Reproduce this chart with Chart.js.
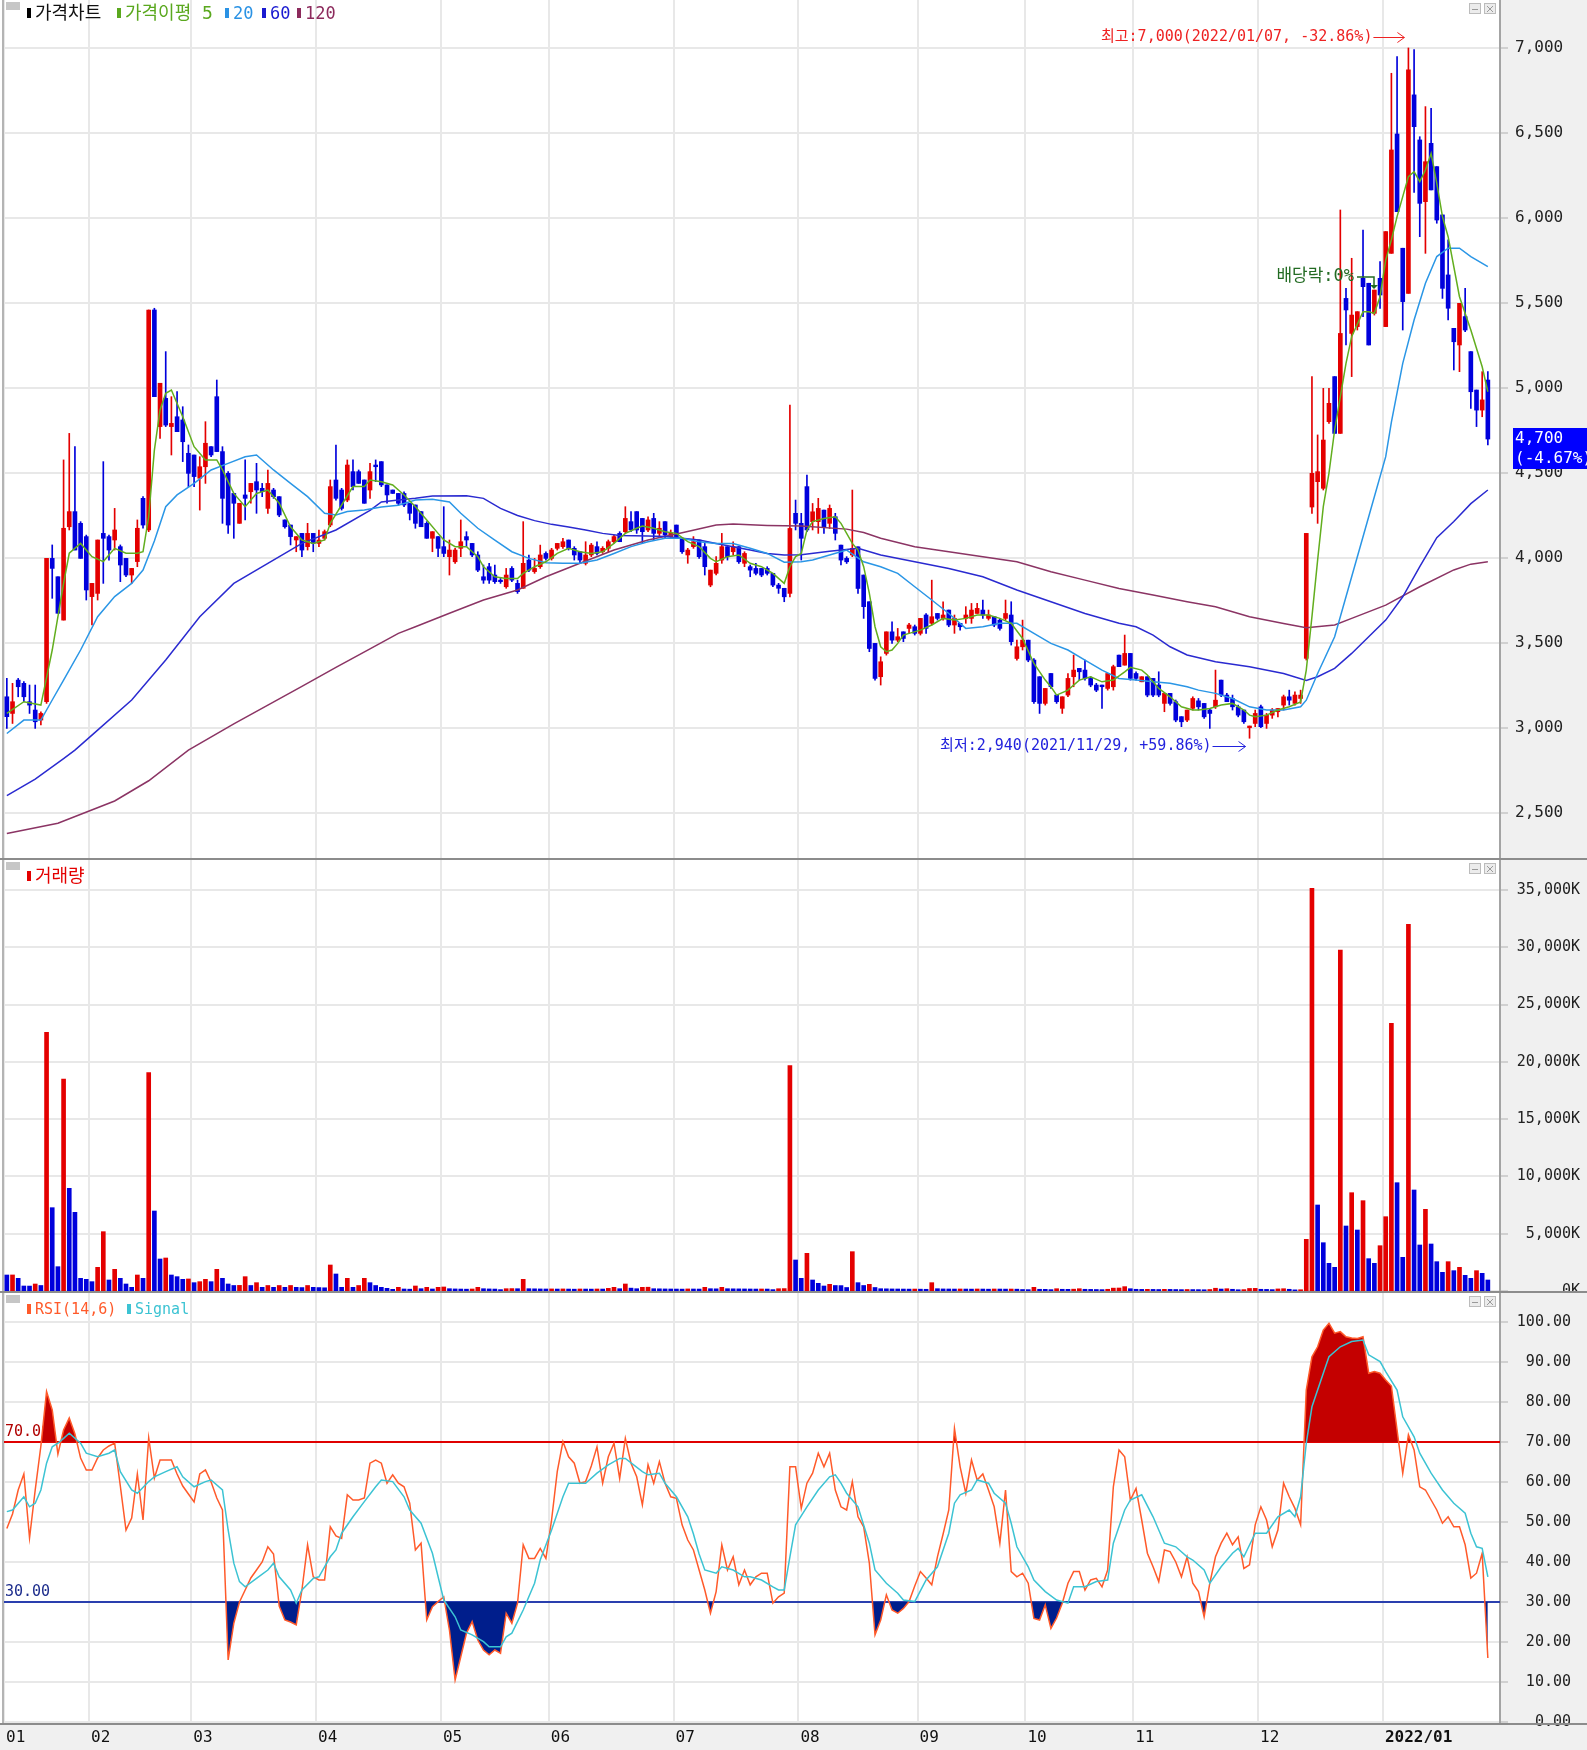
<!DOCTYPE html>
<html>
<head>
<meta charset="utf-8">
<script src="https://cdn.jsdelivr.net/npm/chart.js@4.4.0/dist/chart.umd.min.js"></script>
<style>
  html, body { margin: 0; padding: 0; background: #fff; }
  #wrap { position: relative; width: 1587px; height: 1750px; overflow: hidden; background: #fff; }
  canvas { position: absolute; left: 0; }
  .t { position: absolute; white-space: nowrap; line-height: 20px; font-size: 18px;
       font-family: "DejaVu Sans Mono", "Noto Sans CJK KR", sans-serif; }
  .b { position: absolute; width: 4px; height: 10px; }
</style>
</head>
<body>
<div id="wrap">
  <canvas id="price" width="1587" height="860" style="top:0"></canvas>
  <canvas id="vol" width="1587" height="433" style="top:860px"></canvas>
  <canvas id="rsi" width="1587" height="457" style="top:1293px"></canvas>

  <div class="b" style="left:27px;top:8px;background:#000"></div>
  <div class="t" style="left:35px;top:3px;color:#111">가격차트</div>
  <div class="b" style="left:117px;top:8px;background:#5aa81e"></div>
  <div class="t" style="left:125px;top:3px;color:#5aa81e">가격이평 5</div>
  <div class="b" style="left:225px;top:8px;background:#2a92e4"></div>
  <div class="t" style="left:233px;top:3px;color:#2a92e4;font-size:17px">20</div>
  <div class="b" style="left:262px;top:8px;background:#1a1ad0"></div>
  <div class="t" style="left:270px;top:3px;color:#1a1ad0;font-size:17px">60</div>
  <div class="b" style="left:297px;top:8px;background:#8c2a5c"></div>
  <div class="t" style="left:305px;top:3px;color:#8c2a5c;font-size:17px">120</div>

  <div class="b" style="left:27px;top:871px;background:#e40000"></div>
  <div class="t" style="left:35px;top:866px;color:#e40000">거래량</div>

  <div class="b" style="left:27px;top:1304px;background:#ff5a2a"></div>
  <div class="t" style="left:35px;top:1299px;color:#ff5a2a;font-size:15px">RSI(14,6)</div>
  <div class="b" style="left:127px;top:1304px;background:#3cc3d3"></div>
  <div class="t" style="left:135px;top:1299px;color:#3cc3d3;font-size:15px">Signal</div>
</div>
<script>
// trading day index: 0 = mid Jan 2021 ... 261 = late Jan 2022
const monthStarts = [0, 15, 33, 55, 77, 96, 118, 140, 161, 180, 199, 221, 243];
const monthLabels = ['01', '02', '03', '04', '05', '06', '07', '08', '09', '10', '11', '12', '2022/01'];
const priceTicks = [2500, 3000, 3500, 4000, 4500, 5000, 5500, 6000, 6500, 7000];
const volTicks = [0, 5000, 10000, 15000, 20000, 25000, 30000, 35000];
const rsiTicks = [0, 10, 20, 30, 40, 50, 60, 70, 80, 90, 100];

const hiDate = '2022/01/07';
const loDate = '2021/11/29';
const exDivIndex = 241;

const opens = [
  3184,3086,3282,3263,3155,3106,3047,3155,3998,3890,
  3635,4184,4273,4204,4126,3773,3792,4145,4126,4106,
  4067,3998,3900,3979,4351,4165,5459,4773,4939,4773,
  4831,4812,4616,4606,4469,4537,4655,4949,4626,4498,
  4380,4204,4371,4390,4449,4410,4292,4400,4361,4224,
  4194,4106,4145,4067,4145,4086,4116,4194,4459,4400,
  4341,4508,4508,4459,4400,4547,4567,4430,4400,4380,
  4380,4321,4312,4273,4204,4116,4126,4067,4008,3978,
  4057,4126,4086,4018,3890,3949,3900,3870,3831,3939,
  3851,3822,3988,3920,3949,4027,3998,4057,4067,4106,
  4057,4037,3969,4018,4067,4037,4057,4096,4145,4155,
  4214,4273,4233,4165,4233,4145,4214,4126,4194,4116,
  4018,4067,4106,4067,3841,3910,3988,4067,4037,4067,
  3969,3949,3939,3939,3939,3910,3841,3822,3792,4263,
  4204,4420,4214,4214,4282,4204,4243,4076,3998,4018,
  4066,3900,3743,3498,3302,3439,3566,3517,3566,3586,
  3596,3557,3665,3616,3674,3645,3694,3606,3616,3645,
  3645,3674,3694,3645,3655,3635,3645,3665,3409,3478,
  3517,3400,3302,3145,3321,3194,3116,3194,3302,3351,
  3341,3292,3253,3253,3233,3243,3429,3370,3439,3321,
  3272,3302,3292,3253,3145,3204,3155,3067,3047,3116,
  3160,3145,3106,3125,3282,3194,3174,3125,3106,3002,
  3027,3125,3027,3076,3096,3135,3184,3145,3174,3410,
  4300,4449,4410,4802,5067,4733,5527,5321,5361,5645,
  5616,5439,5645,5361,5792,6494,5822,5557,6724,6459,
  6096,6439,6302,6018,5665,5351,5253,5420,5214,4988,4870,5047
];
const highs = [
  3292,3263,3292,3273,3253,3253,3096,3998,4077,3890,
  4577,4733,4655,4214,4135,3851,4106,4567,4135,4292,
  4077,3998,3939,4224,4361,5459,5469,5028,5214,4949,
  4979,4890,4665,4606,4596,4802,4655,5047,4655,4508,
  4380,4322,4577,4439,4557,4439,4518,4410,4361,4224,
  4194,4126,4145,4204,4145,4165,4165,4459,4665,4410,
  4577,4577,4518,4459,4557,4577,4567,4430,4400,4380,
  4390,4321,4312,4273,4214,4155,4126,4302,4106,4057,
  4224,4155,4086,4037,3959,3969,3959,3880,3939,3949,
  3870,4214,4018,3998,4076,4037,4057,4086,4116,4106,
  4067,4037,4096,4086,4096,4067,4106,4135,4155,4302,
  4273,4273,4233,4243,4263,4214,4214,4165,4194,4116,
  4057,4126,4106,4086,3929,4008,4145,4067,4096,4067,
  4037,3959,3969,3939,3949,3910,3851,3822,4900,4341,
  4263,4488,4321,4351,4282,4312,4263,4076,4008,4400,
  4066,3900,3743,3498,3419,3566,3625,3586,3566,3616,
  3606,3645,3674,3870,3674,3743,3694,3665,3616,3714,
  3733,3733,3753,3694,3655,3645,3753,3743,3517,3635,
  3517,3409,3302,3233,3321,3194,3184,3321,3429,3351,
  3400,3302,3263,3253,3321,3370,3429,3547,3439,3331,
  3302,3302,3292,3331,3204,3204,3165,3067,3106,3184,
  3174,3145,3115,3341,3282,3204,3194,3135,3106,3012,
  3106,3135,3086,3115,3115,3194,3223,3213,3223,4145,
  5067,4724,4998,4998,5067,6047,5586,5763,5449,5929,
  5616,5576,5743,5920,6851,6949,5822,7000,6990,6478,
  6655,6645,6302,6018,5871,5351,5498,5586,5214,4988,5096,5096
];
const lows = [
  2998,3027,3184,3155,3086,2998,3018,3145,3763,3675,
  3635,4165,4047,3998,3753,3606,3753,3851,3988,4047,
  3861,3890,3851,3949,4175,4155,4949,4704,4773,4606,
  4743,4567,4420,4420,4282,4439,4596,4626,4204,4145,
  4116,4204,4224,4322,4263,4361,4263,4351,4243,4175,
  4077,4037,4008,4047,4037,4067,4106,4184,4341,4282,
  4331,4400,4439,4322,4351,4449,4420,4322,4380,4312,
  4302,4224,4175,4184,4116,4037,4008,4008,3900,3969,
  4008,4067,4008,3920,3851,3851,3851,3851,3822,3861,
  3792,3822,3920,3910,3939,3988,3988,4047,4057,4047,
  3988,3969,3959,4008,4018,4027,4037,4086,4096,4145,
  4155,4145,4086,4155,4106,4126,4116,4116,4116,4027,
  3969,4057,3998,3900,3831,3900,3969,3988,4018,3969,
  3949,3890,3900,3890,3900,3831,3792,3743,3772,4165,
  3988,4155,4165,4145,4145,4174,4106,3959,3968,4008,
  3792,3645,3449,3282,3253,3429,3498,3508,3508,3557,
  3547,3547,3557,3606,3635,3635,3596,3557,3576,3616,
  3616,3674,3645,3635,3596,3576,3635,3488,3400,3459,
  3390,3145,3086,3135,3233,3145,3086,3184,3243,3282,
  3282,3243,3214,3116,3223,3223,3361,3370,3282,3282,
  3272,3184,3184,3184,3096,3135,3037,3008,3037,3106,
  3106,3057,2998,3115,3184,3155,3106,3066,3027,2940,
  3008,3002,2998,3057,3066,3106,3135,3135,3145,3400,
  4263,4204,4400,4792,4733,4733,5253,5067,5341,5420,
  5253,5429,5468,5361,5792,6037,5341,5557,6150,5890,
  5792,6165,5969,5527,5400,5106,5096,5331,4880,4773,4831,4665
];
const closes = [
  3067,3155,3243,3184,3135,3037,3086,3998,3939,3675,
  4175,4273,4047,3998,3812,3851,4106,4116,4047,4165,
  3959,3900,3939,4175,4194,5459,4949,5028,4782,4792,
  4743,4684,4498,4479,4537,4675,4606,4626,4351,4194,
  4322,4322,4351,4439,4400,4390,4439,4361,4253,4184,
  4126,4126,4047,4145,4086,4106,4155,4420,4351,4292,
  4547,4420,4439,4322,4508,4537,4430,4371,4380,4322,
  4312,4263,4204,4184,4116,4155,4057,4027,4047,4047,
  4096,4106,4018,3929,3870,3870,3861,3861,3900,3870,
  3802,3969,3929,3939,4018,3998,4047,4086,4096,4057,
  4018,3988,4018,4076,4027,4057,4096,4126,4096,4233,
  4165,4165,4155,4224,4145,4175,4135,4145,4126,4037,
  4047,4096,4008,3949,3929,3969,4067,4008,4067,3978,
  4027,3929,3910,3900,3910,3841,3822,3772,4174,4204,
  4116,4165,4272,4292,4184,4292,4145,3988,3978,4057,
  3821,3714,3468,3292,3390,3566,3517,3537,3527,3606,
  3557,3645,3586,3655,3645,3665,3606,3645,3596,3665,
  3694,3704,3665,3665,3606,3586,3674,3508,3478,3517,
  3400,3155,3145,3233,3243,3155,3184,3292,3341,3331,
  3292,3253,3223,3243,3321,3361,3361,3439,3292,3292,
  3302,3194,3194,3194,3204,3145,3047,3037,3106,3174,
  3125,3066,3086,3164,3194,3155,3125,3076,3037,3012,
  3086,3008,3076,3106,3115,3184,3164,3194,3194,4145,
  4498,4508,4694,4910,4733,5321,5459,5429,5449,5596,
  5253,5576,5547,5920,6400,6037,5508,6871,6537,6086,
  6331,6165,5988,5586,5469,5272,5498,5341,4978,4870,4930,4700
];
// volume in thousands of shares
const volumes = [
  1396,1400,1106,436,430,610,480,22578,7272,2123,
  18503,8961,6866,1106,1018,815,2064,5178,960,1890,
  1106,611,320,1396,1106,19056,6982,2793,2880,1396,
  1251,1018,1050,727,815,1018,815,1890,1106,611,
  480,490,1251,480,727,320,480,320,480,320,
  480,320,300,480,320,300,280,2269,1484,320,
  1106,320,480,1106,727,480,320,233,146,320,
  175,160,436,200,320,175,320,350,200,180,
  170,160,175,320,200,180,170,120,200,210,
  200,1018,200,190,180,175,180,170,180,170,
  160,175,170,165,175,170,230,320,200,611,
  250,200,320,330,200,190,180,175,170,165,
  180,175,170,320,200,190,320,200,190,185,
  180,175,170,175,170,120,200,210,19667,2706,
  1106,3288,960,669,436,582,480,470,305,3433,
  727,480,582,305,200,190,180,175,170,165,
  170,160,150,727,200,180,175,170,175,170,
  165,175,170,160,175,170,165,170,160,130,
  120,320,150,145,120,200,150,145,160,200,
  150,140,130,120,150,250,260,380,200,150,
  140,145,140,130,145,140,130,120,130,125,
  120,110,130,240,170,200,150,110,120,220,
  230,150,140,120,180,200,150,100,110,4512,
  35147,7506,4216,2417,2066,29762,5673,8580,5324,7883,
  2822,2417,3954,6486,23365,9453,2939,32004,8815,4015,
  7128,4102,2560,1629,2560,1775,2066,1367,1106,1775,1542,960
];
const rsi = [
  48.4,52,58,62,46,58,69,82.6,78,67,
  73,76,72,66,63,63,66,68,69,69.7,
  59,48,51,62,50.5,71,61,65.5,65.5,65.5,
  62,59,57,55,62,63,60,56,53,15.5,
  24.7,30,33,36,38,40,43.8,42,29,25.5,
  25,24.3,33,44.3,36.3,35.5,35.5,48.8,46.5,45.9,
  56.8,55.5,55.5,56,64.7,65.5,64.7,59.7,61.8,59.7,
  58.8,54.7,43,44.7,25.5,28.8,30.1,31.3,23,10.5,
  16.3,22.2,25.1,20.5,18,16.8,18,17.2,27.2,24.7,
  29.7,44.3,40.9,40.9,43.4,40.9,50.5,62.6,70.1,66.3,
  64.7,59.7,60.1,64,68.8,59.7,66.3,69.7,60.9,70.9,
  64.7,61.3,54.3,64.3,59.7,65.1,59.7,56.3,55.9,49.3,
  45.5,43,38,33,27.2,32.6,44.3,38,41.3,34.3,
  38,34.3,36.3,37.2,37.2,29.7,31.3,32.2,63.8,63.8,
  53.4,59.7,62.2,67.2,63.8,67.2,58,53.8,53,60.1,
  51.3,48.8,39.7,21.8,25.5,31.8,28,27.2,28.4,30.1,
  34,37.6,36,34.3,41.3,47,53,73.4,63.8,57.2,
  65.5,60.5,62,58,53.8,44.7,58,37.6,36.3,37.2,
  34.7,25.9,25.5,29.3,23.4,26,29.7,34.7,37.6,37.6,
  33,35.5,35.9,33.8,38,58.8,68,66.3,55.5,58.4,
  50.5,42.2,38.8,35.1,43,42.6,40,36.3,41.3,34.7,
  32.6,26.3,34.7,41.3,44.7,47.2,44.3,46.3,38.4,39.3,
  49.3,53.8,50.5,43.8,48,59.7,56.3,53.4,49.3,83,
  91.3,93.8,98,99.7,97.2,97.6,96.3,96,95.9,96.3,
  87.2,87.6,87.2,85.5,84,73,62.2,71.8,68,58.8,
  58,55.5,53,49.7,51.3,48.8,48.8,44.3,36,37.2,42.2,16
];
const signal = [
  [0,52.6],[1,53],[3,56.3],[4,53.8],[5,54.7],[6,58],[7,64.7],[8,68.8],[9,69.7],[10,70.9],[11,72.2],
  [13,69.7],[14,67.2],[16,66.3],[18,67.2],[19,68],[20,62.6],[22,58],[23,57.2],[25,60.1],[26,61.3],
  [28,62.6],[30,63.8],[31,61.3],[33,58.8],[35,60.1],[36,60.5],[38,58],[39,48],[40,39.7],[41,35.1],
  [42,33.8],[44,35.9],[46,38],[47,39.7],[48,36.3],[50,33],[51,29.7],[52,33],[54,35.9],[55,36.3],
  [57,41.3],[58,43],[59,47.2],[61,51.3],[63,55.1],[65,58.8],[66,60.5],[68,60.1],[70,56.3],[71,53],
  [73,49.7],[75,42.2],[76,36.3],[77,30.5],[79,26.3],[80,23],[82,21.8],[84,20.1],[85,18.8],[87,18.8],
  [88,21.3],[89,22.2],[91,28],[93,34.7],[94,40.5],[96,48],[98,56.3],[99,59.7],[102,59.7],[104,62.2],
  [106,64.3],[108,65.9],[109,65.9],[112,62.6],[113,61.8],[115,62.2],[116,59.7],[118,56.3],[120,51.3],
  [121,47],[122,42],[123,38],[125,37.2],[126,38.8],[128,38],[130,36.3],[131,36.3],[133,35.5],[135,33.8],
  [136,33],[137,33],[138,41.3],[139,49.3],[141,53.8],[143,58],[145,61.3],[146,61.8],[147,59.7],[148,57.2],
  [150,53.8],[152,44.7],[153,38],[155,34.7],[157,32.2],[158,30.5],[160,30.1],[162,35.5],[164,38.8],
  [166,47.2],[167,54.7],[168,56.8],[170,58],[171,60.5],[173,59.7],[174,57.2],[176,54.7],[177,49.7],
  [178,43.8],[180,38.8],[181,35.5],[183,32.6],[185,30.5],[187,29.7],[188,33.8],[190,33.8],[192,35.1],
  [194,35.5],[195,44.7],[197,53],[198,55.5],[200,56.8],[202,51.3],[204,44.7],[206,43.8],[208,41.3],
  [209,40.5],[211,38],[212,34.7],[214,38.8],[216,42.2],[217,43.4],[218,41.3],[220,47.2],[222,47.2],
  [224,51.3],[226,53],[227,51.3],[228,56.3],[229,69.7],[230,78.8],[232,87.2],[233,91.3],[235,93.8],
  [237,95.1],[239,95.5],[240,91.8],[242,90.1],[243,87.6],[245,83],[246,76.3],[248,71.3],[249,67.2],
  [251,62.2],[253,58],[255,54.7],[257,52.2],[258,47.2],[259,43.8],[260,43.4],[261,36.3]
];
// moving averages: [day index, price]
const ma5 = [
  [0,3086],[3,3155],[6,3135],[8,3459],[10,3851],[11,4028],[13,4086],[15,4008],[17,3979],[19,4057],
  [21,4028],[23,4028],[24,4037],[25,4243],[26,4635],[27,4871],[28,4969],[29,4988],[31,4831],[33,4655],
  [35,4577],[37,4577],[38,4518],[40,4380],[42,4302],[44,4380],[46,4400],[48,4322],[50,4184],[52,4106],
  [54,4086],[56,4106],[57,4204],[59,4312],[61,4420],[63,4420],[64,4459],[66,4449],[68,4430],[70,4371],
  [72,4302],[74,4224],[76,4145],[77,4106],[79,4067],[81,4067],[83,4008],[84,3949],[86,3890],[88,3880],
  [90,3880],[91,3910],[93,3949],[95,3978],[97,4027],[99,4057],[101,4037],[103,4027],[105,4037],[107,4086],
  [109,4145],[111,4175],[112,4188],[114,4175],[116,4155],[118,4145],[120,4096],[122,4067],[124,3998],
  [125,3978],[127,4008],[129,4018],[131,3969],[133,3949],[135,3910],[137,3851],[138,3949],[139,4008],
  [140,4027],[141,4165],[142,4214],[144,4233],[146,4243],[147,4204],[149,4086],[150,4047],[151,3949],
  [152,3792],[153,3596],[154,3478],[155,3449],[156,3459],[157,3498],[158,3547],[159,3557],[161,3576],
  [163,3606],[165,3645],[167,3635],[169,3645],[171,3665],[173,3665],[175,3645],[177,3616],[179,3527],
  [181,3380],[183,3282],[184,3243],[185,3194],[187,3223],[189,3282],[191,3302],[193,3272],[195,3282],
  [197,3331],[198,3357],[200,3341],[201,3312],[203,3233],[205,3184],[207,3125],[209,3106],[210,3106],
  [212,3115],[214,3135],[216,3145],[218,3106],[219,3076],[220,3066],[222,3076],[224,3106],[226,3125],
  [228,3154],[229,3341],[230,3655],[231,3988],[232,4302],[233,4500],[234,4753],[236,5145],[237,5302],
  [239,5449],[240,5449],[241,5439],[242,5537],[243,5753],[244,5871],[245,6008],[247,6243],[248,6272],
  [249,6214],[250,6282],[251,6380],[252,6204],[253,6008],[254,5890],[256,5537],[258,5341],[260,5125],[261,4978]
];
const ma20 = [
  [0,2968],[3,3047],[6,3047],[8,3165],[10,3282],[13,3459],[16,3655],[19,3773],[22,3851],[24,3929],
  [26,4100],[28,4302],[30,4371],[33,4439],[36,4518],[39,4557],[42,4596],[44,4606],[47,4518],[50,4439],
  [53,4361],[56,4263],[58,4253],[60,4273],[63,4282],[66,4300],[69,4310],[72,4341],[75,4345],[78,4330],
  [80,4263],[83,4175],[86,4106],[89,4037],[92,3998],[95,3972],[98,3969],[101,3969],[104,3988],[107,4027],
  [110,4067],[113,4096],[116,4116],[119,4116],[122,4096],[125,4086],[128,4086],[131,4057],[134,4027],
  [137,3975],[140,3978],[142,3988],[145,4018],[148,4047],[151,3978],[154,3949],[157,3910],[160,3831],
  [163,3753],[166,3674],[169,3586],[172,3596],[175,3616],[178,3616],[181,3557],[184,3498],[187,3459],
  [190,3400],[193,3341],[196,3292],[199,3282],[202,3272],[205,3263],[208,3243],[210,3223],[213,3204],
  [216,3174],[219,3125],[222,3106],[225,3106],[228,3125],[229,3164],[231,3321],[234,3537],[237,3890],
  [240,4243],[243,4596],[244,4800],[246,5145],[248,5400],[250,5616],[252,5773],[254,5822],[256,5822],
  [258,5773],[261,5714]
];
const ma60 = [
  [0,2603],[5,2700],[10,2820],[12,2870],[16,2988],[22,3165],[28,3400],[34,3655],[40,3851],[46,3969],
  [52,4086],[58,4165],[64,4280],[66,4330],[69,4341],[72,4351],[75,4365],[81,4366],[84,4351],[87,4292],
  [90,4250],[93,4220],[96,4198],[99,4182],[102,4165],[105,4145],[108,4133],[113,4130],[116,4126],
  [119,4116],[122,4106],[125,4086],[128,4067],[131,4047],[134,4027],[137,4018],[140,4020],[145,4040],
  [150,4057],[154,4018],[160,3978],[166,3939],[172,3890],[178,3812],[184,3743],[190,3674],[196,3616],
  [199,3596],[202,3547],[205,3478],[208,3430],[213,3390],[219,3360],[225,3321],[229,3280],[231,3302],
  [234,3351],[237,3439],[240,3537],[243,3635],[246,3772],[249,3949],[252,4120],[255,4215],[258,4320],[261,4400]
];
const ma120 = [
  [0,2380],[9,2440],[19,2571],[25,2690],[32,2870],[40,3025],[46,3135],[52,3245],[58,3357],[64,3466],
  [69,3557],[72,3596],[78,3675],[84,3753],[90,3812],[95,3890],[101,3969],[107,4047],[113,4106],[119,4149],
  [125,4194],[128,4200],[134,4192],[140,4188],[148,4170],[151,4150],[154,4116],[160,4067],[166,4037],
  [172,4008],[178,3978],[184,3919],[190,3870],[196,3821],[202,3782],[208,3743],[213,3713],[219,3655],
  [225,3615],[229,3590],[234,3606],[237,3645],[243,3723],[249,3831],[255,3930],[258,3964],[261,3978]
];

const RED = '#e40000', BLUE = '#0000dc';
const MONO = '"DejaVu Sans Mono", "Noto Sans CJK KR", monospace';
Chart.defaults.font.family = MONO;
const idx = closes.map((_, i) => i);
const fmt = v => v.toLocaleString('en-US');

function xScale(withLabels) {
  return {
    type: 'linear', min: -0.5, max: 263.14, offset: false, bounds: 'data',
    afterBuildTicks: s => { s.ticks = monthStarts.map(m => ({ value: m - 0.5 })); },
    afterFit: s => { s.height = withLabels ? 27 : 0; s.paddingLeft = 0; s.paddingRight = 0; },
    grid: { color: '#e8e8e8', lineWidth: 2, drawTicks: false, offset: false },
    border: { display: false },
    ticks: withLabels ? {
      autoSkip: false, maxRotation: 0, minRotation: 0, align: 'start', labelOffset: 2, padding: 5,
      color: '#111',
      font: c => ({ family: MONO, size: 16, weight: c.index === monthLabels.length - 1 ? 'bold' : 'normal' }),
      callback: (v, i) => monthLabels[i]
    } : { display: false }
  };
}
// axisWidth + right layout padding together always fill the 87px axis column
function yScale(min, max, ticks, fmtFn, size, align, pad, axisWidth) {
  return {
    position: 'right', min: min, max: max, bounds: 'data',
    afterBuildTicks: s => { s.ticks = ticks.map(v => ({ value: v })); },
    afterFit: s => { s.width = axisWidth; s.paddingTop = 0; s.paddingBottom = 0; },
    grid: { color: '#e8e8e8', lineWidth: 2, tickLength: 8, tickColor: '#d0d0d0' },
    border: { color: '#a4a4a4', width: 2 },
    ticks: { padding: pad, crossAlign: align, color: '#222', font: { family: MONO, size: size }, callback: fmtFn }
  };
}

const frame = {
  id: 'frame',
  beforeDraw(chart, args, o) {
    const { ctx, chartArea: a, width, height } = chart;
    ctx.save();
    ctx.fillStyle = '#f0f0f0';
    ctx.fillRect(a.right, 0, width - a.right, height);
    if (o.strip) ctx.fillRect(0, a.bottom, width, height - a.bottom);
    ctx.restore();
  },
  afterDraw(chart, args, o) {
    const { ctx, chartArea: a, width, height } = chart;
    ctx.save();
    ctx.fillStyle = '#b4b4b4';
    ctx.fillRect(a.left - 2, 0, 2, a.bottom);
    ctx.fillStyle = '#c6c6c6';
    ctx.fillRect(6, 2, 14, 8);
    // panel window icons
    [a.right - 31, a.right - 16].forEach((x0, n) => {
      ctx.fillStyle = '#ececec';
      ctx.fillRect(x0, 3, 12, 11);
      ctx.strokeStyle = '#bcbcbc';
      ctx.lineWidth = 1;
      ctx.strokeRect(x0 + 0.5, 3.5, 11, 10);
      ctx.strokeStyle = '#9a9a9a';
      ctx.beginPath();
      if (n === 0) { ctx.moveTo(x0 + 3, 9.5); ctx.lineTo(x0 + 9, 9.5); }
      else { ctx.moveTo(x0 + 3, 6); ctx.lineTo(x0 + 9, 12); ctx.moveTo(x0 + 9, 6); ctx.lineTo(x0 + 3, 12); }
      ctx.stroke();
    });
    ctx.fillStyle = '#8c8c8c';
    ctx.fillRect(0, o.strip ? a.bottom : height - 2, width, 2);
    ctx.restore();
  }
};

function arrow(ctx, x1, x2, y, color) {
  ctx.strokeStyle = color;
  ctx.lineWidth = 1;
  ctx.beginPath();
  ctx.moveTo(x1, y + 0.5); ctx.lineTo(x2, y + 0.5);
  ctx.moveTo(x2 - 7, y - 4.5); ctx.lineTo(x2, y + 0.5); ctx.lineTo(x2 - 7, y + 5.5);
  ctx.stroke();
}

const notes = {
  id: 'notes',
  afterDatasetsDraw(chart) {
    const { ctx, scales: { x, y } } = chart;
    const last = closes[closes.length - 1];
    const hiVal = Math.max(...highs), loVal = Math.min(...lows);
    const hi = highs.indexOf(hiVal), lo = lows.indexOf(loVal);
    const pct = r => { const p = (last - r) / r * 100; return (p >= 0 ? '+' : '') + p.toFixed(2) + '%'; };
    ctx.save();
    ctx.font = '15px ' + MONO;
    ctx.textAlign = 'right';
    ctx.textBaseline = 'middle';

    const xh = x.getPixelForValue(hi), yh = y.getPixelForValue(hiVal) - 11;
    ctx.fillStyle = '#ee2222';
    ctx.fillText('최고:' + fmt(hiVal) + '(' + hiDate + ', ' + pct(hiVal) + ')', xh - 36, yh);
    arrow(ctx, xh - 35, xh - 4, Math.round(yh), '#ee2222');

    const xl = x.getPixelForValue(lo), yl = y.getPixelForValue(loVal) + 8;
    ctx.fillStyle = '#2222dd';
    ctx.fillText('최저:' + fmt(loVal) + '(' + loDate + ', ' + pct(loVal) + ')', xl - 38, yl);
    arrow(ctx, xl - 37, xl - 4, Math.round(yl), '#2222dd');

    // ex-dividend marker
    const xd = Math.round(x.getPixelForValue(exDivIndex)), yd = Math.round(y.getPixelForValue(highs[exDivIndex]));
    ctx.fillStyle = '#236b23';
    ctx.strokeStyle = '#236b23';
    ctx.font = '17px ' + MONO;
    ctx.fillText('배당락:0%', xd - 20, yd - 13);
    ctx.lineWidth = 1.5;
    ctx.beginPath();
    ctx.moveTo(xd - 17, yd - 13); ctx.lineTo(xd, yd - 13); ctx.lineTo(xd, yd - 4);
    ctx.stroke();
    ctx.beginPath();
    ctx.moveTo(xd - 4, yd - 5); ctx.lineTo(xd + 4, yd - 5); ctx.lineTo(xd, yd - 1);
    ctx.closePath(); ctx.fill();
    ctx.restore();
  },
  afterDraw(chart) {
    const { ctx, chartArea: a, scales: { y } } = chart;
    const last = closes[closes.length - 1], prev = closes[closes.length - 2];
    const ch = (last - prev) / prev * 100;
    const yc = Math.round(y.getPixelForValue(last));
    ctx.save();
    ctx.fillStyle = '#0000ff';
    ctx.fillRect(a.right + 13, yc - 11, 74, 41);
    ctx.fillStyle = '#fff';
    ctx.font = '16px ' + MONO;
    ctx.textAlign = 'left';
    ctx.textBaseline = 'middle';
    ctx.fillText(fmt(last), a.right + 15, yc);
    ctx.fillText('(' + (ch >= 0 ? '+' : '') + ch.toFixed(2) + '%)', a.right + 15, yc + 20);
    ctx.restore();
  }
};

const levels = {
  id: 'levels',
  beforeDatasetsDraw(chart) {
    const { ctx, chartArea: a, scales: { y } } = chart;
    ctx.save();
    ctx.font = '15px ' + MONO;
    ctx.textAlign = 'left';
    ctx.textBaseline = 'middle';
    [[70, '#e00000', '#b00000'], [30, '#2a3fae', '#1c2c8c']].forEach(([v, lc, tc]) => {
      const py = y.getPixelForValue(v);
      ctx.fillStyle = tc;
      ctx.fillText(v.toFixed(2), a.left + 1, py - 10);
      ctx.fillStyle = lc;
      ctx.fillRect(a.left, Math.round(py) - 1, a.right - a.left, 2);
    });
    ctx.restore();
  }
};

const base = (padRight) => ({
  responsive: false, animation: false, devicePixelRatio: 1, events: [],
  layout: { padding: { left: 4, right: padRight, top: 0, bottom: 0 } },
});
const lineDs = (pts, color, order) => ({
  type: 'line', data: pts.map(([x, y]) => ({ x, y })), borderColor: color, borderWidth: 1.5,
  pointRadius: 0, fill: false, tension: 0, order: order
});
const candleColor = c => closes[c.dataIndex] >= opens[c.dataIndex] ? RED : BLUE;

new Chart(document.getElementById('price'), {
  type: 'bar',
  data: {
    datasets: [
      { data: idx.map(i => ({ x: i, y: [lows[i], highs[i]] })), backgroundColor: candleColor,
        barThickness: 1, grouped: false, order: 6 },
      { data: idx.map(i => ({ x: i, y: [opens[i], closes[i]] })), backgroundColor: candleColor,
        barThickness: 4, minBarLength: 1, grouped: false, order: 5 },
      lineDs(ma120, '#8b3464', 4),
      lineDs(ma60, '#2a2ad0', 3),
      lineDs(ma20, '#2a96e6', 2),
      lineDs(ma5, '#62ae1e', 1)
    ]
  },
  options: Object.assign({}, base(0), {
    scales: {
      x: xScale(false),
      y: yScale(2224, 7282, priceTicks, v => fmt(v), 16, 'near', 7, 87)
    },
    plugins: { legend: { display: false }, tooltip: { enabled: false }, frame: { strip: false } }
  }),
  plugins: [frame, notes]
});

new Chart(document.getElementById('vol'), {
  type: 'bar',
  data: {
    datasets: [
      { data: idx.map(i => ({ x: i, y: volumes[i] })), base: -175,
        backgroundColor: c => (c.dataIndex > 0 && volumes[c.dataIndex] >= volumes[c.dataIndex - 1]) ? RED : BLUE,
        barThickness: 4, grouped: false }
    ]
  },
  options: Object.assign({}, base(7), {
    scales: {
      x: xScale(false),
      y: yScale(-175, 37618, volTicks, v => fmt(v) + 'K', 15, 'far', 4, 80)
    },
    plugins: { legend: { display: false }, tooltip: { enabled: false }, frame: { strip: false } }
  }),
  plugins: [frame]
});

const rsiPts = idx.map(i => ({ x: i, y: rsi[i] }));
new Chart(document.getElementById('rsi'), {
  type: 'line',
  data: {
    datasets: [
      { data: rsiPts, borderColor: 'rgba(0,0,0,0)', borderWidth: 0, pointRadius: 0, order: 4,
        fill: { target: { value: 70 }, above: '#c40000', below: 'rgba(0,0,0,0)' } },
      { data: rsiPts, borderColor: 'rgba(0,0,0,0)', borderWidth: 0, pointRadius: 0, order: 3,
        fill: { target: { value: 30 }, above: 'rgba(0,0,0,0)', below: '#001e8c' } },
      { data: rsiPts, borderColor: '#ff5a2a', borderWidth: 1.5, pointRadius: 0, fill: false, order: 1 },
      lineDs(signal, '#3cc3d3', 0)
    ]
  },
  options: Object.assign({}, base(16), {
    scales: {
      x: xScale(true),
      y: yScale(-0.25, 107.25, rsiTicks, v => v.toFixed(2), 15, 'far', 4, 71)
    },
    plugins: { legend: { display: false }, tooltip: { enabled: false }, frame: { strip: true } }
  }),
  plugins: [frame, levels]
});
</script>
</body>
</html>
